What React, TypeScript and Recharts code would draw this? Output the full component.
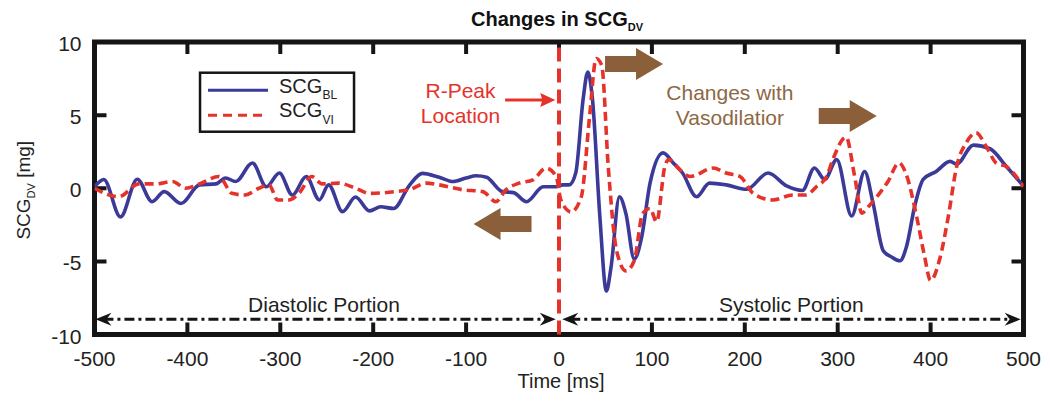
import React from 'react';
import { LineChart, Line, XAxis, YAxis, ReferenceLine, ReferenceArea, ReferenceDot } from 'recharts';

const FONT = "'Liberation Sans', Arial, Helvetica, sans-serif";
const BLUE = '#3b3a98';
const RED = '#e5332c';
const BROWN = '#8b5f3a';
const BROWN_TEXT = '#8d6843';
const INK = '#151515';

const xDomain = [-500, 500];
const yDomain = [-10, 10];
const xTicks = [-500, -400, -300, -200, -100, 0, 100, 200, 300, 400, 500];
const yTicks = [-10, -5, 0, 5, 10];

// SCG_BL (baseline) — time [ms] and value [mg]
const blTime = [-500, -490, -472, -454, -438, -425, -407, -387, -369, -359, -348, -330, -315, -301, -287, -272, -258, -248, -233, -219, -204, -192, -178, -161, -147, -129, -114, -100, -89, -78, -61, -49, -35, -17, -3, 4, 11, 18, 26, 31, 36, 44, 51, 56, 65, 72, 81, 89, 98, 112, 123, 133, 148, 162, 180, 202, 225, 245, 262, 275, 286, 299, 315, 329, 338, 349, 358, 367, 374, 383, 392, 406, 421, 428, 446, 464, 482, 500];
const blValues = [0.1, 0.6, -1.96, 0.62, -0.92, -0.23, -1.04, 0.23, 0.3, 0.7, 0.46, 1.73, 0.1, 1.04, -0.46, 0.8, -0.8, 0.23, -1.6, -0.6, -1.55, -1.27, -1.38, 0.2, 1.02, 0.75, 0.46, 0.7, 0.85, 0.75, -0.23, -0.3, -0.92, 0.1, 0.1, 0.23, 0.23, 1.04, 6.1, 7.95, 6.1, -1.96, -7.03, -5.4, -0.58, -1.73, -4.84, -3.34, 0.35, 2.42, 1.73, 1.04, -0.58, 0.35, 0.23, -0.07, 1.04, 0.16, -0.15, 1.38, 0.6, 1.96, -1.9, 1.15, -1.0, -4.27, -4.7, -4.96, -4.0, -1.2, 0.6, 1.15, 1.84, 1.65, 2.95, 2.7, 1.45, 0.15];

// SCG_VI (vasodilator)
const viTime = [-500, -474, -452, -434, -416, -402, -387, -366, -352, -338, -323, -312, -303, -291, -280, -266, -255, -237, -219, -204, -176, -161, -143, -129, -104, -82, -68, -57, -43, -28, -14, -3, 2, 13, 24, 33, 40, 46, 53, 62, 72, 81, 90, 98, 105, 114, 118, 130, 141, 166, 180, 195, 209, 230, 252, 266, 277, 288, 295, 309, 318, 326, 333, 345, 354, 366, 374, 385, 393, 400, 410, 419, 428, 439, 449, 460, 471, 482, 500];
const viValues = [0, -0.58, 0.3, 0.3, 0.46, 0, 0.3, 0.8, -0.35, -0.46, 0, 0.23, -0.8, -0.8, -0.35, 0.8, 0.3, 0.35, 0, -0.35, -0.23, -0.1, 0.35, 0.23, -0.1, -0.23, -0.92, -0.1, 0.35, 0.57, 1.38, 0.8, -0.8, -1.62, -0.58, 4.95, 8.87, 8.4, 1.5, -4.27, -5.65, -4.96, -1.73, -1.38, -2.3, 1.5, 1.96, 1.27, 0.8, 1.38, 1.04, 0.8, -0.35, -0.8, -0.46, -0.46, 0.1, 0.8, 2.0, 3.5, 0.9, -1.7, -1.26, -0.35, 0.45, 1.73, 0.9, -1.95, -4.5, -6.3, -4.8, -1.95, 1.47, 3.18, 3.8, 2.84, 1.7, 1.47, 0.1];

// annotations (data coordinates)
const titleAnchor = { t: 0, v: 11.09 };
const redTexts = [{ t: -106, v: 6.17, label: 'R-Peak' }, { t: -106, v: 4.46, label: 'Location' }];
const brownTexts = [{ t: 184, v: 6.03, label: 'Changes with' }, { t: 184, v: 4.32, label: 'Vasodilatior' }];
const portionTexts = [{ t: -253, v: -8.44, label: 'Diastolic Portion' }, { t: 250, v: -8.44, label: 'Systolic Portion' }];
const blockArrows = [{ t: -92, v: -2.44, dir: -1 }, { t: 112, v: 8.49, dir: 1 }, { t: 342, v: 4.94, dir: 1 }];
const rPeakArrow = { from: -58, to: -4, v: 6.03 };
const portionArrows = [{ from: -499, to: -3.5, v: -8.96 }, { from: 3.5, to: 497, v: -8.96 }];
const legendAnchor = { t: -386.4, v: 7.9 };

const blData = blTime.map((t, i) => ({ t, v: blValues[i] }));
const viData = viTime.map((t, i) => ({ t, v: viValues[i] }));

const BottomTick = (p: any) => (
  <text x={p.x} y={p.y + 31} textAnchor="middle" fontSize={21} fontFamily={FONT} fill="#222">{p.payload.value}</text>
);
const LeftTick = (p: any) => (
  <text x={p.x - 13} y={p.y + 9} textAnchor="end" fontSize={21} fontFamily={FONT} fill="#222">{p.payload.value}</text>
);

// Box (ReferenceArea spanning the full domain) with inward tick marks on all four sides.
const TICK_LEN = 12;
const FrameShape = (p: any) => {
  const { x, y, width, height } = p;
  const fx = (t: number) => x + ((t - xDomain[0]) / (xDomain[1] - xDomain[0])) * width;
  const fy = (v: number) => y + height - ((v - yDomain[0]) / (yDomain[1] - yDomain[0])) * height;
  let d = '';
  xTicks.forEach((t) => {
    const px = fx(t);
    d += `M${px},${y} L${px},${y + TICK_LEN} M${px},${y + height} L${px},${y + height - TICK_LEN} `;
  });
  yTicks.forEach((v) => {
    const py = fy(v);
    d += `M${x},${py} L${x + TICK_LEN},${py} M${x + width},${py} L${x + width - TICK_LEN},${py} `;
  });
  return (
    <g>
      <path d={d} stroke={INK} strokeWidth={4} fill="none" />
      <rect x={x} y={y} width={width} height={height} fill="none" stroke={INK} strokeWidth={5} />
    </g>
  );
};

const TitleShape = (p: any) => (
  <text x={p.cx - 2} y={p.cy} textAnchor="middle" fontSize={20} fontWeight="bold" fontFamily={FONT} fill="#111">
    Changes in SCG<tspan fontSize={11} dy={5}>DV</tspan>
  </text>
);
const XLabel = (p: any) => {
  const vb = p.viewBox || { x: 94.5, y: 334.5, width: 929 };
  return (
    <text x={vb.x + vb.width / 2 + 2} y={vb.y + 53.5} textAnchor="middle" fontSize={20} fontFamily={FONT} fill="#222">Time [ms]</text>
  );
};
const YLabel = (p: any) => {
  const vb = p.viewBox || { x: 34.5, y: 42, width: 60, height: 292.5 };
  const x = vb.x - 5;
  const y = vb.y + vb.height / 2 + 2;
  return (
    <text x={x} y={y} transform={`rotate(-90, ${x}, ${y})`} textAnchor="middle" fontSize={19} fontFamily={FONT} fill="#222">
      SCG<tspan fontSize={11} dy={5}>DV</tspan><tspan fontSize={19} dy={-5}> [mg]</tspan>
    </text>
  );
};

const head = (x: number, y: number, d: number, len: number, half: number, notch: number) =>
  `M${x},${y} L${x - d * len},${y - half} L${x - d * (len - notch)},${y} L${x - d * len},${y + half} Z`;

const DoubleArrowShape = (p: any) => {
  const { x1, y1, x2, y2 } = p;
  return (
    <g>
      <line x1={x1 + 8} y1={y1} x2={x2 - 8} y2={y2} stroke={INK} strokeWidth={3} strokeDasharray="10 4 3 4" />
      <path d={head(x1, y1, -1, 16, 6.5, 5)} fill={INK} />
      <path d={head(x2, y2, 1, 16, 6.5, 5)} fill={INK} />
    </g>
  );
};
const RedArrowShape = (p: any) => {
  const { x1, y1, x2, y2 } = p;
  return (
    <g>
      <line x1={x1} y1={y1} x2={x2 - 10} y2={y2} stroke={RED} strokeWidth={3} />
      <path d={head(x2, y2, 1, 15, 7, 2)} fill={RED} />
    </g>
  );
};
const makeBlockArrow = (d: number) => (p: any) => {
  const { cx, cy } = p;
  const pts = [
    [cx, cy], [cx - d * 27, cy - 16], [cx - d * 27, cy - 8], [cx - d * 58, cy - 8],
    [cx - d * 58, cy + 8], [cx - d * 27, cy + 8], [cx - d * 27, cy + 16],
  ].map((q) => q.join(',')).join(' ');
  return <polygon points={pts} fill={BROWN} />;
};
const makeText = (label: string, color: string) => (p: any) => (
  <text x={p.cx} y={p.cy} textAnchor="middle" fontSize={21} fontFamily={FONT} fill={color}>{label}</text>
);
const LegendShape = (p: any) => {
  const { cx, cy } = p;
  return (
    <g>
      <rect x={cx} y={cy} width={154} height={59} fill="#fff" stroke={INK} strokeWidth={2.5} />
      <line x1={cx + 8} y1={cy + 17.5} x2={cx + 68} y2={cy + 17.5} stroke={BLUE} strokeWidth={3} />
      <line x1={cx + 8} y1={cy + 42.5} x2={cx + 68} y2={cy + 42.5} stroke={RED} strokeWidth={3} strokeDasharray="9 6" />
      <text x={cx + 79} y={cy + 20.5} fontSize={20} fontFamily={FONT} fill="#222">
        SCG<tspan fontSize={12} dy={6}>BL</tspan>
      </text>
      <text x={cx + 79} y={cy + 44.5} fontSize={20} fontFamily={FONT} fill="#222">
        SCG<tspan fontSize={12} dy={7}>VI</tspan>
      </text>
    </g>
  );
};

export default function App() {
  return (
    <div style={{ position: 'absolute', left: 0, top: 0, width: 1050, height: 401, background: '#fff' }}>
      <LineChart width={1050} height={401} margin={{ top: 42, right: 26.5, bottom: 36.5, left: 34.5 }}>
        <XAxis
          dataKey="t" type="number" domain={xDomain} ticks={xTicks} interval={0}
          allowDataOverflow height={30} tickSize={0} tickMargin={0} axisLine={false} tickLine={false}
          tick={<BottomTick />} label={{ content: XLabel }}
        />
        <YAxis
          type="number" domain={yDomain} ticks={yTicks} interval={0} allowDataOverflow width={60}
          tickSize={0} tickMargin={0} axisLine={false} tickLine={false} tick={<LeftTick />} label={{ content: YLabel }}
        />
        <Line data={blData} dataKey="v" type="monotone" stroke={BLUE} strokeWidth={3.6} dot={false} isAnimationActive={false} />
        <Line data={viData} dataKey="v" type="monotone" stroke={RED} strokeWidth={3.6} strokeDasharray="9 5" dot={false} isAnimationActive={false} />
        <ReferenceLine x={0} stroke={RED} strokeWidth={4} strokeDasharray="14 7" />
        {portionArrows.map((a, i) => (
          <ReferenceLine key={'pa' + i} segment={[{ x: a.from, y: a.v }, { x: a.to, y: a.v }]} shape={DoubleArrowShape} />
        ))}
        <ReferenceLine segment={[{ x: rPeakArrow.from, y: rPeakArrow.v }, { x: rPeakArrow.to, y: rPeakArrow.v }]} shape={RedArrowShape} />
        {blockArrows.map((a, i) => (
          <ReferenceDot key={'ba' + i} x={a.t} y={a.v} r={1} ifOverflow="visible" shape={makeBlockArrow(a.dir)} />
        ))}
        {redTexts.map((a, i) => (
          <ReferenceDot key={'rtx' + i} x={a.t} y={a.v} r={1} ifOverflow="visible" shape={makeText(a.label, RED)} />
        ))}
        {brownTexts.map((a, i) => (
          <ReferenceDot key={'btx' + i} x={a.t} y={a.v} r={1} ifOverflow="visible" shape={makeText(a.label, BROWN_TEXT)} />
        ))}
        {portionTexts.map((a, i) => (
          <ReferenceDot key={'ptx' + i} x={a.t} y={a.v} r={1} ifOverflow="visible" shape={makeText(a.label, '#222')} />
        ))}
        <ReferenceDot x={legendAnchor.t} y={legendAnchor.v} r={1} ifOverflow="visible" shape={LegendShape} />
        <ReferenceDot x={titleAnchor.t} y={titleAnchor.v} r={1} ifOverflow="visible" shape={TitleShape} />
        <ReferenceArea x1={xDomain[0]} x2={xDomain[1]} y1={yDomain[0]} y2={yDomain[1]} ifOverflow="visible" shape={FrameShape} />
      </LineChart>
    </div>
  );
}
